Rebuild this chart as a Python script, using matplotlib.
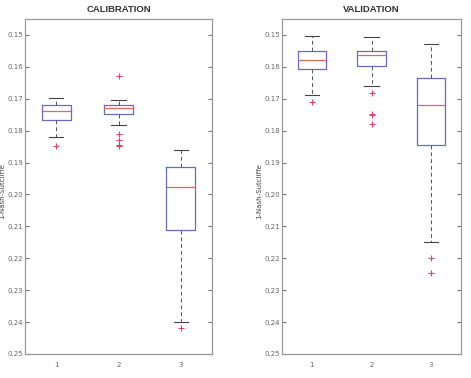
import matplotlib
matplotlib.use("Agg")
import matplotlib.pyplot as plt

# box statistics: (whisker low, q1, median, q3, whisker high, outliers)
# values are 1-Nash-Sutcliffe, axis is inverted so "low" sits at the top
cal_whislo = [0.1698, 0.1704, 0.1861]
cal_q1 = [0.1721, 0.1720, 0.1914]
cal_med = [0.1739, 0.1729, 0.1977]
cal_q3 = [0.1768, 0.1748, 0.2110]
cal_whishi = [0.1821, 0.1783, 0.2401]
cal_fliers = [[0.1849], [0.1628, 0.1811, 0.1830, 0.1846, 0.1849], [0.2418]]

val_whislo = [0.1504, 0.1505, 0.1528]
val_q1 = [0.1551, 0.1551, 0.1635]
val_med = [0.1579, 0.1563, 0.1718]
val_q3 = [0.1606, 0.1596, 0.1844]
val_whishi = [0.1689, 0.1660, 0.2150]
val_fliers = [[0.1709], [0.1682, 0.1747, 0.1751, 0.1780], [0.2198, 0.2247]]

labels = ["1", "2", "3"]
yticks = [0.15, 0.16, 0.17, 0.18, 0.19, 0.20, 0.21, 0.22, 0.23, 0.24, 0.25]


def make_stats(wlo, q1, med, q3, whi, fl):
    return [dict(whislo=wlo[i], q1=q1[i], med=med[i], q3=q3[i], whishi=whi[i],
                 fliers=fl[i], label=labels[i]) for i in range(len(labels))]


def draw(ax, stats, title, label_x):
    ax.bxp(stats, widths=0.47, showfliers=True,
           boxprops=dict(color="#6b6bbd", linewidth=0.9),
           medianprops=dict(color="#e06a5a", linewidth=0.9),
           whiskerprops=dict(color="#555555", linestyle=(0, (4, 3)), linewidth=0.7),
           capprops=dict(color="#444444", linewidth=0.8),
           flierprops=dict(marker="+", markeredgecolor="#e0406a", markerfacecolor="none",
                           markersize=4, markeredgewidth=0.8))
    ax.set_xlim(0.5, 3.5)
    ax.set_ylim(0.25, 0.145)
    ax.set_yticks(yticks)
    ax.set_yticklabels([f"{t:.2f}" for t in yticks])
    ax.set_title(title, fontsize=6.8, fontweight="bold", color="#333333", pad=5,
                 family="Liberation Sans")
    ax.set_ylabel("1-Nash-Sutcliffe", fontsize=5, color="#444444")
    ax.yaxis.set_label_coords(label_x, 0.487)
    ax.tick_params(axis="y", direction="in", right=True, length=3, pad=1.5,
                   labelsize=5, colors="#777777", labelcolor="#666666")
    ax.tick_params(axis="x", direction="in", length=0, labelsize=5,
                   labelcolor="#666666", pad=6)
    for sp in ax.spines.values():
        sp.set_color("#999999")
        sp.set_linewidth(0.9)


def main():
    fig = plt.figure(figsize=(4.71, 3.78), dpi=100)
    ax1 = fig.add_axes([25 / 471, 1 - 354 / 378, 187 / 471, 335 / 378])
    ax2 = fig.add_axes([282 / 471, 1 - 354 / 378, 179 / 471, 335 / 378])

    draw(ax1, make_stats(cal_whislo, cal_q1, cal_med, cal_q3, cal_whishi, cal_fliers),
         "CALIBRATION", (5 - 25) / 187)
    draw(ax2, make_stats(val_whislo, val_q1, val_med, val_q3, val_whishi, val_fliers),
         "VALIDATION", (262 - 282) / 179)

    fig.savefig("out.png", dpi=100)


if __name__ == "__main__":
    main()
